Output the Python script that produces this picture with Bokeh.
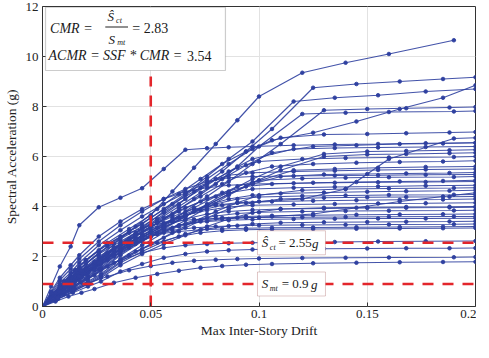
from bokeh.plotting import figure
from bokeh.models import Label, BoxAnnotation, FixedTicker, Range1d, CustomJSTickFormatter
from bokeh.embed import file_html
from bokeh.resources import INLINE

nan = float("nan")

# Max inter-story drift values at which the IDA curves are sampled (four analysis grids)
drift_a = [0, 0.005, 0.010, 0.015, 0.020, 0.030, 0.040, 0.050, 0.060, 0.070,
           0.080, 0.090, 0.100, 0.120, 0.140, 0.160, 0.190, 0.200]
drift_b = [0, 0.006, 0.012, 0.018, 0.024, 0.033, 0.043, 0.053, 0.063, 0.073,
           0.083, 0.094, 0.106, 0.125, 0.145, 0.165, 0.185, 0.200]
drift_c = [0, 0.004, 0.008, 0.013, 0.017, 0.026, 0.036, 0.046, 0.056, 0.066,
           0.076, 0.086, 0.097, 0.116, 0.135, 0.155, 0.177, 0.200]
drift_d = [0, 0.007, 0.014, 0.021, 0.027, 0.036, 0.046, 0.056, 0.066, 0.076,
           0.086, 0.097, 0.110, 0.130, 0.150, 0.168, 0.188, 0.200]

# Spectral acceleration (g) of each record at its drift values
sa_rec01 = [0, .5, 1.0, 1.45, 1.85, 2.55, 3.1, 3.65, 4.6, 5.55, 6.5, 7.45, 8.4, 9.35, 9.75, 10.1, 10.65, nan]
sa_rec02 = [0, .45, .9, 1.3, 1.7, 2.35, 2.95, 3.5, 4.1, 4.75, 5.4, 6.2, 7.1, 8.75, 8.9, 9.0, 9.1, 9.17]
sa_rec03 = [0, .45, .85, 1.25, 1.6, 2.25, 2.8, 3.3, 3.9, 4.5, 5.2, 5.9, 6.6, 8.2, 8.35, 8.45, 8.6, 8.7]
sa_rec04 = [0, .4, .8, 1.2, 1.55, 2.2, 2.75, 3.25, 3.8, 4.4, 5.0, 5.7, 6.5, 7.85, 7.9, 7.93, 7.96, 7.98]
sa_rec05 = [0, .4, .8, 1.15, 1.5, 2.1, 2.65, 3.15, 3.7, 4.3, 4.9, 5.6, 6.4, 7.7, 7.75, 7.78, 7.8, 7.82]
sa_rec06 = [0, .5, .95, 1.35, 1.75, 2.5, 3.2, 3.9, 4.5, 5.1, 5.7, 6.2, 6.65, 6.95, 7.4, 7.9, 8.35, 8.85]
sa_rec07 = [0, .8, 1.6, 2.4, 3.25, 3.97, 4.35, 4.73, 5.5, 6.27, 6.33, 6.37, 6.4, 6.45, 6.48, 6.5, 6.53, 6.55]
sa_rec08 = [0, .5, 1.0, 1.4, 1.8, 2.5, 3.15, 3.8, 4.45, 5.1, 5.7, 6.3, 6.75, 6.88, 6.9, 6.93, 6.96, 6.98]
sa_rec09 = [0, .45, .85, 1.2, 1.55, 2.15, 2.7, 3.2, 3.6, 3.9, 4.05, 4.15, 4.2, 4.3, 4.7, 5.9, 6.72, 6.75]
sa_rec10 = [0, .45, .9, 1.3, 1.65, 2.3, 2.9, 3.45, 4.0, 4.55, 5.1, 5.65, 6.15, 6.4, 6.45, 6.5, 6.52, 6.55]
sa_rec11 = [0, .4, .8, 1.15, 1.5, 2.15, 2.7, 3.2, 3.75, 4.3, 4.85, 5.4, 5.9, 6.3, 6.34, 6.36, 6.38, 6.4]
sa_rec12 = [0, .35, .75, 1.1, 1.45, 2.05, 2.6, 3.1, 3.6, 4.1, 4.6, 5.1, 5.6, 6.1, 6.2, 6.22, 6.25, 6.27]
sa_rec13 = [0, .45, .9, 1.3, 1.7, 2.4, 3.0, 3.55, 4.1, 4.6, 5.1, 5.55, 5.8, 5.9, 5.94, 5.96, 5.98, 6.0]
sa_rec14 = [0, .4, .8, 1.2, 1.55, 2.2, 2.8, 3.35, 3.9, 4.4, 4.9, 5.35, 5.6, 5.7, 5.75, 5.78, 5.8, 5.83]
sa_rec15 = [0, .5, .95, 1.35, 1.75, 2.45, 3.05, 3.6, 4.1, 4.55, 4.95, 5.25, 5.35, 5.4, 5.43, 5.46, 5.48, 5.5]
sa_rec16 = [0, .4, .8, 1.15, 1.5, 2.1, 2.65, 3.15, 3.6, 4.05, 4.5, 4.9, 5.2, 5.28, 5.3, 5.32, 5.34, 5.36]
sa_rec17 = [0, .35, .7, 1.05, 1.4, 2.0, 2.55, 3.05, 3.5, 3.95, 4.4, 4.8, 5.05, 5.12, 5.15, 5.17, 5.18, 5.2]
sa_rec18 = [0, .45, .9, 1.3, 1.65, 2.3, 2.85, 3.35, 3.8, 4.2, 4.55, 4.8, 4.9, 4.95, 4.98, 5.0, 5.02, 5.05]
sa_rec19 = [0, .4, .8, 1.15, 1.5, 2.1, 2.6, 3.1, 3.55, 3.95, 4.3, 4.55, 4.7, 4.75, 4.78, 4.8, 4.83, 4.85]
sa_rec20 = [0, .5, .95, 1.35, 1.7, 2.3, 2.85, 3.3, 3.7, 4.05, 4.3, 4.45, 4.52, 4.56, 4.59, 4.61, 4.63, 4.65]
sa_rec21 = [0, .35, .7, 1.05, 1.35, 1.95, 2.45, 2.95, 3.4, 3.8, 4.1, 4.3, 4.38, 4.42, 4.44, 4.46, 4.47, 4.48]
sa_rec22 = [0, .45, .85, 1.2, 1.55, 2.15, 2.7, 3.15, 3.55, 3.85, 4.05, 4.15, 4.2, 4.23, 4.25, 4.27, 4.28, 4.3]
sa_rec23 = [0, .4, .75, 1.1, 1.4, 2.0, 2.5, 2.95, 3.35, 3.65, 3.85, 3.98, 4.05, 4.08, 4.1, 4.12, 4.13, 4.15]
sa_rec24 = [0, .5, .95, 1.35, 1.7, 2.3, 2.8, 3.2, 3.5, 3.7, 3.8, 3.86, 3.9, 3.92, 3.94, 3.95, 3.96, 3.97]
sa_rec25 = [0, .35, .7, 1.0, 1.3, 1.85, 2.35, 2.8, 3.15, 3.45, 3.62, 3.72, 3.77, 3.8, 3.82, 3.83, 3.84, 3.85]
sa_rec26 = [0, .45, .85, 1.2, 1.5, 2.05, 2.55, 2.95, 3.25, 3.45, 3.55, 3.6, 3.63, 3.65, 3.67, 3.68, 3.69, 3.7]
sa_rec27 = [0, .4, .75, 1.05, 1.35, 1.9, 2.4, 2.8, 3.1, 3.3, 3.4, 3.45, 3.48, 3.5, 3.51, 3.52, 3.52, 3.53]
sa_rec28 = [0, .3, .6, .9, 1.2, 1.75, 2.2, 2.6, 2.9, 3.1, 3.22, 3.3, 3.35, 3.37, 3.38, 3.39, 3.4, 3.41]
sa_rec29 = [0, .45, .85, 1.2, 1.5, 2.0, 2.45, 2.8, 3.05, 3.15, 3.2, 3.23, 3.25, 3.26, 3.27, 3.28, 3.29, 3.3]
sa_rec30 = [0, .35, .65, .95, 1.25, 1.75, 2.2, 2.55, 2.8, 2.95, 3.03, 3.07, 3.09, 3.1, 3.11, 3.12, 3.13, 3.14]
sa_rec31 = [0, .3, .55, .8, 1.05, 1.5, 1.85, 2.15, 2.35, 2.45, 2.5, 2.53, 2.55, 2.57, 2.58, 2.6, 2.61, 2.62]
sa_rec32 = [0, .3, .55, .8, 1.0, 1.4, 1.7, 1.95, 2.1, 2.2, 2.25, 2.28, 2.3, 2.31, 2.32, 2.33, 2.33, 2.34]
sa_rec33 = [0, .25, .5, .7, .9, 1.2, 1.45, 1.62, 1.75, 1.83, 1.87, 1.9, 1.92, 1.94, 1.95, 1.96, 1.97, 1.98]
sa_rec34 = [0, .2, .4, .55, .7, .95, 1.15, 1.3, 1.43, 1.55, 1.62, 1.67, 1.7, 1.73, 1.75, 1.77, 1.78, 1.79]
sa_rec35 = [0, .55, 1.05, 1.5, 1.9, 2.6, 3.25, 3.8, 4.3, 4.7, 5.0, 5.15, 5.2, 5.22, 5.24, 5.25, 5.27, 5.28]
sa_rec36 = [0, .3, .6, .9, 1.15, 1.65, 2.1, 2.5, 2.85, 3.2, 3.5, 3.75, 3.9, 3.95, 3.97, 3.98, 3.99, 4.0]
sa_rec37 = [0, .5, 1.0, 1.45, 1.85, 2.5, 2.95, 3.25, 3.4, 3.48, 3.52, 3.55, 3.56, 3.57, 3.58, 3.59, 3.6, 3.6]
sa_rec38 = [0, .4, .8, 1.15, 1.45, 2.0, 2.5, 2.9, 3.2, 3.4, 3.5, 3.55, 3.6, 3.7, 3.95, 4.2, 4.4, 4.55]
sa_rec39 = [0, .3, .6, .9, 1.2, 1.75, 2.25, 2.7, 3.15, 3.6, 4.05, 4.5, 4.95, 5.45, 5.5, 5.55, 5.58, 5.6]
sa_rec40 = [0, .35, .7, 1.0, 1.3, 1.9, 2.45, 2.95, 3.45, 3.95, 4.45, 4.95, 5.45, 6.0, 6.08, 6.1, 6.13, 6.15]
sa_rec41 = [0, .3, .6, .85, 1.1, 1.6, 2.05, 2.5, 2.95, 3.4, 3.8, 4.15, 4.45, 4.65, 4.7, 4.72, 4.74, 4.75]
sa_rec42 = [0, .55, 1.05, 1.45, 1.8, 2.35, 2.7, 2.9, 3.0, 3.07, 3.1, 3.13, 3.15, 3.16, 3.17, 3.18, 3.19, 3.2]
sa_rec43 = [0, .6, 1.15, 1.65, 2.05, 2.8, 3.4, 3.9, 4.3, 4.6, 4.75, 4.85, 4.9, 4.93, 4.95, 4.97, 4.98, 5.0]
sa_rec44 = [0, .35, .65, .95, 1.25, 1.8, 2.3, 2.75, 3.15, 3.55, 3.9, 4.15, 4.3, 4.35, 4.37, 4.38, 4.39, 4.4]

records = [sa_rec01, sa_rec02, sa_rec03, sa_rec04, sa_rec05, sa_rec06, sa_rec07, sa_rec08,
           sa_rec09, sa_rec10, sa_rec11, sa_rec12, sa_rec13, sa_rec14, sa_rec15, sa_rec16,
           sa_rec17, sa_rec18, sa_rec19, sa_rec20, sa_rec21, sa_rec22, sa_rec23, sa_rec24,
           sa_rec25, sa_rec26, sa_rec27, sa_rec28, sa_rec29, sa_rec30, sa_rec31, sa_rec32,
           sa_rec33, sa_rec34, sa_rec35, sa_rec36, sa_rec37, sa_rec38, sa_rec39, sa_rec40,
           sa_rec41, sa_rec42, sa_rec43, sa_rec44]
drift_grids = [drift_a, drift_b, drift_c, drift_d]

# Reference levels
sa_ct = 2.55
sa_mt = 0.9
drift_limit = 0.05
drift_line_top = 9.2
x_ticks = [0, 0.05, 0.1, 0.15, 0.2]
y_ticks = [0, 2, 4, 6, 8, 10, 12]

FONT = "Liberation Serif"
BLUE = "#2f40a0"
RED = "#e3262b"

p = figure(frame_width=433, frame_height=300,
           min_border_left=39, min_border_right=1, min_border_top=6, min_border_bottom=36,
           x_range=Range1d(0, 0.2), y_range=Range1d(0, 12),
           output_backend="svg", toolbar_location=None,
           background_fill_color="white", border_fill_color="white")

p.outline_line_color = "#333333"
p.outline_line_width = 1
p.grid.grid_line_color = "#e2e2e2"
p.grid.grid_line_width = 1

for ax in (p.xaxis, p.yaxis):
    ax.axis_line_color = None
    ax.major_tick_in = 4
    ax.major_tick_out = 0
    ax.minor_tick_line_color = None
    ax.major_tick_line_color = "#333333"
    ax.major_label_text_font = FONT
    ax.major_label_text_font_size = "13px"
    ax.major_label_text_color = "#222222"
    ax.axis_label_text_font = FONT
    ax.axis_label_text_font_size = "13.5px"
    ax.axis_label_text_font_style = "normal"
    ax.axis_label_text_color = "#222222"

p.xaxis.ticker = FixedTicker(ticks=x_ticks)
p.yaxis.ticker = FixedTicker(ticks=y_ticks)
p.xaxis.formatter = CustomJSTickFormatter(code="return String(tick);")
p.xaxis.major_label_standoff = 3
p.xaxis.axis_label_standoff = 2
p.yaxis.major_label_standoff = 4
p.yaxis.axis_label_standoff = 4
p.xaxis.axis_label = "Max Inter-Story Drift"
p.yaxis.axis_label = "Spectral Acceleration (g)"

# IDA curves
for i, sa in enumerate(records):
    dx = drift_grids[i % 4]
    p.line(dx, sa, line_color=BLUE, line_width=1.2, line_alpha=0.9)
    p.scatter(dx, sa, marker="circle", size=3.6, fill_color=BLUE, line_color=BLUE, line_alpha=0.9)

# Red dashed reference lines
p.line([0, 0.2], [sa_ct, sa_ct], line_color=RED, line_width=2.6, line_dash="11 9")
p.line([0, 0.2], [sa_mt, sa_mt], line_color=RED, line_width=2.6, line_dash="11 9")
p.line([drift_limit, drift_limit], [0, drift_line_top], line_color=RED, line_width=2.6, line_dash="11 9")

# Annotation boxes
p.add_layout(BoxAnnotation(left=0.0014, right=0.0845, bottom=9.44, top=11.97,
                           fill_color="white", fill_alpha=1, line_color="#555555", line_width=1.2))
p.add_layout(BoxAnnotation(left=0.0993, right=0.1307, bottom=sa_ct - 0.48, top=sa_ct + 0.48,
                           fill_color="white", fill_alpha=1, line_color="#9a4a4a", line_width=1))
p.add_layout(BoxAnnotation(left=0.0993, right=0.1307, bottom=sa_mt - 0.48, top=sa_mt + 0.48,
                           fill_color="white", fill_alpha=1, line_color="#9a4a4a", line_width=1))
# fraction bar
p.add_layout(BoxAnnotation(left=0.0290, right=0.0395, bottom=11.16, top=11.2,
                           fill_color="#222222", fill_alpha=1, line_color=None))


def lab(x, y, text, size="14px", style="italic"):
    p.add_layout(Label(x=x, y=y, text=text, text_font=FONT, text_font_size=size,
                       text_font_style=style, text_color="#1a1a1a",
                       text_baseline="middle", text_align="left"))


# CMR formula
lab(0.0035, 11.12, "CMR =")
lab(0.0300, 11.62, "Ŝ", "13px")
lab(0.0340, 11.45, "ct", "8px")
lab(0.0305, 10.70, "S", "13px")
lab(0.0345, 10.55, "mt", "8px")
lab(0.0415, 11.12, "= 2.83", style="normal")
lab(0.0028, 10.04, "ACMR = SSF * CMR =")
lab(0.0667, 10.04, "3.54", style="normal")

# Ŝct label
lab(0.1013, sa_ct + 0.02, "Ŝ", "13px")
lab(0.1050, sa_ct - 0.17, "ct", "8px")
lab(0.1090, sa_ct + 0.02, "= 2.55", "13px", "normal")
lab(0.1245, sa_ct - 0.02, "g", "13px")

# Smt label
lab(0.1013, sa_mt + 0.02, "S", "13px")
lab(0.1050, sa_mt - 0.17, "mt", "8px")
lab(0.1105, sa_mt + 0.02, "= 0.9", "13px", "normal")
lab(0.1240, sa_mt - 0.02, "g", "13px")

open("out.html", "w").write(file_html(p, INLINE))
